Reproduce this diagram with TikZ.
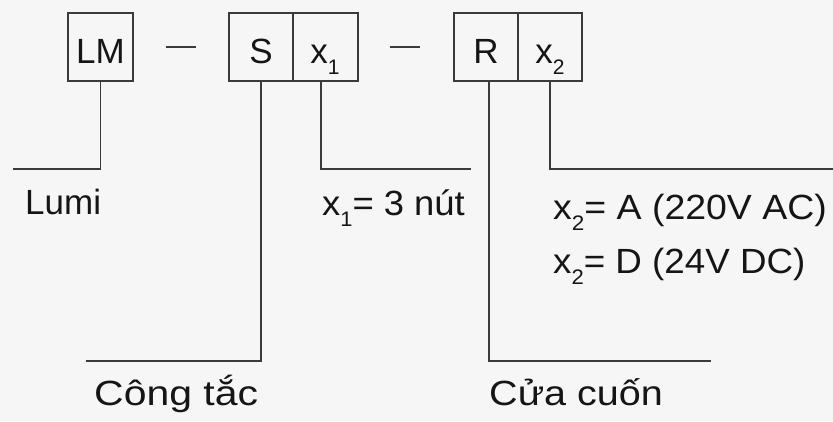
\documentclass[tikz,border=0pt]{standalone}
\usepackage{fontspec}
\setmainfont{Liberation Sans}
\definecolor{bgc}{HTML}{F6F6F6}
\definecolor{linec}{HTML}{3A3A3A}
\definecolor{txtc}{HTML}{151515}
\newcommand{\subidx}[1]{\raisebox{-0.32em}{\fontsize{21}{21}\selectfont #1}}
\begin{document}
\begin{tikzpicture}[x=1pt,y=-1pt,
  lbl/.style={font=\fontsize{35}{42}\selectfont, text=txtc, inner sep=0pt},
  cell/.style={draw=linec, line width=1.5pt, minimum height=68pt, inner sep=0pt, font=\fontsize{35}{42}\selectfont, text=txtc},
  wire/.style={draw=linec, line width=1.5pt},
  sep/.style={draw=linec, line width=1.3pt}]
\fill[bgc] (0,0) rectangle (833,421);
\useasboundingbox (0,0) rectangle (833,421);
% boxes
\node[cell, minimum width=65pt] (lm) at (100.5,47) {};
\node[cell, minimum width=64pt] (s) at (261,47) {};
\node[cell, minimum width=65pt] (xa) at (325.5,47) {};
\node[cell, minimum width=64pt] (r) at (486,47) {};
\node[cell, minimum width=64pt] (xb) at (550,47) {};
% box texts
\node[lbl, anchor=base] (tlm) at (100.5,63) {LM};
\node[lbl, anchor=base] (ts) at (261,63) {S};
\node[lbl, anchor=base] (txa) at (325,63) {x\subidx{1}};
\node[lbl, anchor=base] (tr) at (486,63) {R};
\node[lbl, anchor=base] (txb) at (550,63) {x\subidx{2}};
% dashes
\coordinate (d1a) at (166,47); \coordinate (d1b) at (196,47);
\coordinate (d2a) at (390,47); \coordinate (d2b) at (420,47);
\draw[sep] (d1a) -- (d1b);
\draw[sep] (d2a) -- (d2b);
% connector ends
\coordinate (elm) at (13,169);
\coordinate (es) at (86,361);
\coordinate (exa) at (471,169);
\coordinate (er) at (711,361);
\coordinate (exb) at (833,169);
\draw[wire] (lm.south) |- (elm);
\draw[wire] (s.south) |- (es);
\draw[wire] ([xshift=-4.5pt]xa.south) |- (exa);
\draw[wire] ([xshift=3pt]r.south) |- (er);
\draw[wire] (xb.south) |- (exb);
% labels
\node[lbl, anchor=base west] (lumi) at (25,214) {Lumi};
\node[lbl, anchor=base west] (nut) at (322,215) {\scalebox{1.04}[1]{x\subidx{1}= 3 nút}};
\node[lbl, anchor=base west] (ac) at (553,219) {\scalebox{1.07}[1]{x\subidx{2}= A (220V AC)}};
\node[lbl, anchor=base west] (dc) at (553,273) {\scalebox{1.05}[1]{x\subidx{2}= D (24V DC)}};
\node[lbl, anchor=base west] (ct) at (94,405) {\scalebox{1.17}[1]{Công tắc}};
\node[lbl, anchor=base west] (cc) at (489,405) {\scalebox{1.13}[1]{Cửa cuốn}};
\end{tikzpicture}
\end{document}
